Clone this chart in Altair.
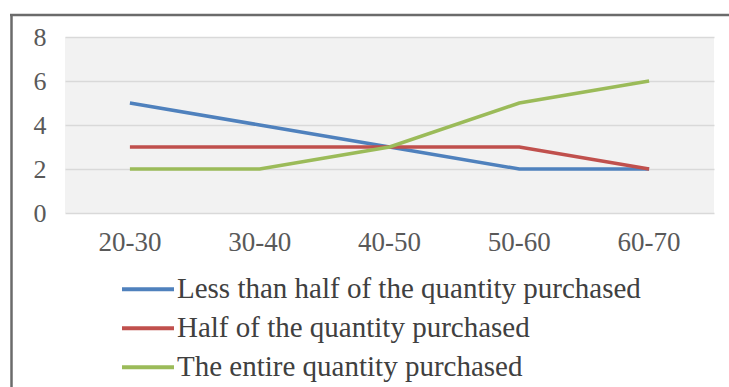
import altair as alt
import pandas as pd

# Age groups on the x axis
age_groups = ["20-30", "30-40", "40-50", "50-60", "60-70"]

# Number of respondents per purchasing behaviour
less_than_half = [5, 4, 3, 2, 2]
half = [3, 3, 3, 3, 2]
entire = [2, 2, 3, 5, 6]

series_names = [
    "Less than half of the quantity purchased",
    "Half of the quantity purchased",
    "The entire quantity purchased",
]
series_colors = ["#4F81BD", "#C0504D", "#9BBB59"]

rows = []
for name, values in zip(series_names, [less_than_half, half, entire]):
    for age, v in zip(age_groups, values):
        rows.append({"age": age, "series": name, "count": v})
df = pd.DataFrame(rows)

W, H = 649, 176
SERIF = "Liberation Serif, Times New Roman, serif"

lines = alt.Chart(df).mark_line(strokeWidth=3.5).encode(
    x=alt.X(
        "age:N",
        sort=age_groups,
        scale=alt.Scale(type="band", paddingInner=0, paddingOuter=0),
        axis=alt.Axis(
            title=None, labelAngle=0, ticks=False, domain=False, grid=False,
            labelFont=SERIF, labelFontSize=27, labelColor="#595959",
            labelPadding=16,
        ),
    ),
    y=alt.Y(
        "count:Q",
        scale=alt.Scale(domain=[0, 8], nice=False),
        axis=alt.Axis(
            title=None, values=[0, 2, 4, 6, 8], ticks=False, domain=False,
            grid=True, gridColor="#d9d9d9", gridWidth=1.5,
            labelFont=SERIF, labelFontSize=26, labelColor="#595959",
            labelPadding=19,
        ),
    ),
    color=alt.Color(
        "series:N",
        sort=series_names,
        scale=alt.Scale(domain=series_names, range=series_colors),
        legend=alt.Legend(
            title=None, orient="none", legendX=55, legendY=233,
            direction="vertical", symbolType="stroke", symbolSize=2704,
            symbolStrokeWidth=4, labelFont=SERIF, labelFontSize=29,
            labelColor="#404040", labelOffset=1, labelLimit=700,
            clipHeight=38.5, rowPadding=0,
        ),
    ),
)

frame_src = pd.DataFrame({"k": [0]})
frame_left = alt.Chart(frame_src).mark_rule(color="#6b6b6b", strokeWidth=2.5).encode(
    x=alt.value(-53.5), y=alt.value(-22), y2=alt.value(H + 200)
)
frame_top = alt.Chart(frame_src).mark_rule(color="#6b6b6b", strokeWidth=2.5).encode(
    x=alt.value(-55), x2=alt.value(W + 40), y=alt.value(-22)
)

chart = (
    alt.layer(lines, frame_left, frame_top)
    .properties(
        width=W,
        height=H,
        autosize=alt.AutoSizeParams(type="none"),
        padding={"left": 65, "top": 37, "right": 15, "bottom": 174},
        background="#ffffff",
    )
    .configure_view(fill="#f2f2f2", stroke=None)
)

chart.save("out.html", embed_options={"renderer": "svg", "actions": False})
